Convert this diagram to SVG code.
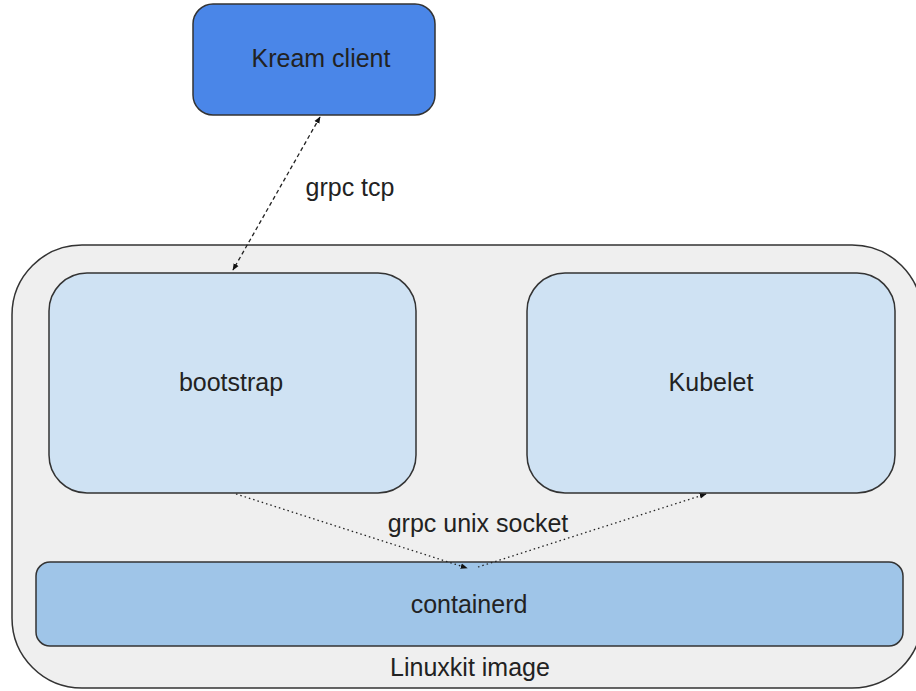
<svg xmlns="http://www.w3.org/2000/svg" width="916" height="691" viewBox="0 0 916 691">
<defs>
<style>
.t{font-family:"Liberation Sans",Arial,sans-serif;font-size:25px;fill:#222;text-anchor:middle}
.n{stroke:#333;stroke-width:1.5}
.c{fill:none;stroke:#222;stroke-width:1.3}
</style>
<marker id="ah" viewBox="0 0 10 10" refX="9" refY="5" markerWidth="7" markerHeight="7" orient="auto-start-reverse" markerUnits="userSpaceOnUse"><path d="M0,1 L10,5 L0,9 z" fill="#111"/></marker>
</defs>
<rect width="916" height="691" fill="#fff"/>
<g id="linuxkit">
<rect class="n" x="12" y="245" width="910" height="443" rx="70" ry="70" fill="#efefef"/>
<text class="t" x="470" y="676">Linuxkit image</text>
</g>
<g id="kream">
<rect class="n" x="193" y="4" width="242" height="111" rx="20" ry="20" fill="#4a86e8"/>
<text class="t" x="321" y="67">Kream client</text>
</g>
<g id="bootstrap">
<rect class="n" x="49" y="273" width="367" height="220" rx="38" ry="38" fill="#cfe2f3"/>
<text class="t" x="231" y="391">bootstrap</text>
</g>
<g id="kubelet">
<rect class="n" x="527" y="273" width="368" height="220" rx="38" ry="38" fill="#cfe2f3"/>
<text class="t" x="711" y="391">Kubelet</text>
</g>
<g id="containerd">
<rect class="n" x="36" y="562" width="867" height="84" rx="14" ry="14" fill="#9fc5e8"/>
<text class="t" x="469" y="613">containerd</text>
</g>
<g id="connectors">
<line class="c" x1="320" y1="117" x2="233" y2="270" stroke-dasharray="4,3" marker-start="url(#ah)" marker-end="url(#ah)"/>
<line class="c" x1="236" y1="494" x2="467" y2="568" stroke-dasharray="1.5,3" marker-end="url(#ah)"/>
<line class="c" x1="478" y1="567" x2="706" y2="494" stroke-dasharray="1.5,3" marker-end="url(#ah)"/>
<text class="t" x="350" y="196">grpc tcp</text>
<text class="t" x="478" y="532">grpc unix socket</text>
</g>
</svg>
